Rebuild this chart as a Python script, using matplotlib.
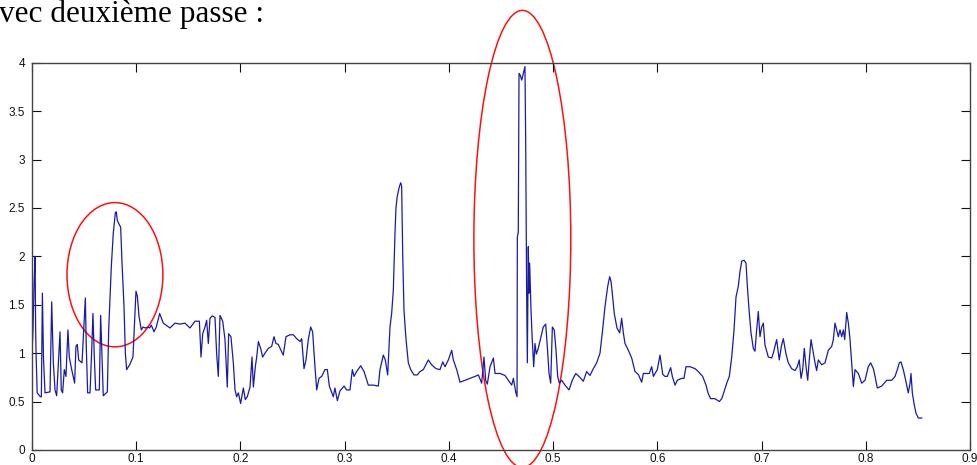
import numpy as np
import matplotlib
matplotlib.use("Agg")
import matplotlib.pyplot as plt
from matplotlib.patches import Ellipse

# courbe
x_vals = [
    0.000, 0.001, 0.002, 0.003, 0.0035, 0.004, 0.005, 0.008, 0.009, 0.010,
    0.011, 0.0125, 0.0173, 0.0189, 0.0205, 0.0221, 0.0237, 0.0253, 0.0269, 0.0281,
    0.0294, 0.0310, 0.0326, 0.0345, 0.0358, 0.0381, 0.0409, 0.0422, 0.0435, 0.0448,
    0.0480, 0.0499, 0.0512, 0.0521, 0.0534, 0.0557, 0.0573, 0.0585, 0.0598, 0.0611,
    0.0646, 0.0659, 0.0672, 0.0684, 0.0723, 0.0736, 0.0745, 0.0761, 0.0780, 0.0800,
    0.0809, 0.0819, 0.0832, 0.0851, 0.0864, 0.0883, 0.0896, 0.0908, 0.0937, 0.0969,
    0.0985, 0.0998, 0.1011, 0.1027, 0.1049, 0.1065, 0.1088, 0.1113, 0.1129, 0.1145,
    0.1171, 0.1193, 0.1225, 0.1260, 0.1324, 0.1372, 0.1420, 0.1468, 0.1516, 0.1564,
    0.1606, 0.1622, 0.1638, 0.1660, 0.1676, 0.1692, 0.1708, 0.1730, 0.1756, 0.1772,
    0.1788, 0.1804, 0.1830, 0.1852, 0.1874, 0.1887, 0.1909, 0.1932, 0.1948, 0.1964,
    0.1980, 0.2002, 0.2028, 0.2047, 0.2066, 0.2092, 0.2111, 0.2124, 0.2143, 0.2156,
    0.2172, 0.2194, 0.2213, 0.2236, 0.2268, 0.2300, 0.2322, 0.2341, 0.2363, 0.2411,
    0.2437, 0.2476, 0.2507, 0.2540, 0.2572, 0.2588, 0.2610, 0.2629, 0.2651, 0.2674,
    0.2693, 0.2715, 0.2732, 0.2754, 0.2780, 0.2811, 0.2834, 0.2853, 0.2891, 0.2907,
    0.2930, 0.2955, 0.2994, 0.3019, 0.3051, 0.3074, 0.3090, 0.3115, 0.3154, 0.3186,
    0.3227, 0.3275, 0.3323, 0.3339, 0.3371, 0.3390, 0.3413, 0.3435, 0.3451, 0.3467,
    0.3483, 0.3493, 0.3505, 0.3525, 0.3538, 0.3547, 0.3557, 0.3569, 0.3589, 0.3611,
    0.3634, 0.3665, 0.3697, 0.3723, 0.3755, 0.3803, 0.3835, 0.3876, 0.3915, 0.3941,
    0.3963, 0.3995, 0.4027, 0.4043, 0.4075, 0.4107, 0.4155, 0.4203, 0.4251, 0.4283,
    0.4315, 0.4337, 0.4353, 0.4369, 0.4395, 0.4427, 0.4443, 0.4491, 0.4538, 0.4571,
    0.4603, 0.4619, 0.4641, 0.4654, 0.4657, 0.4666, 0.4673, 0.4685, 0.4699, 0.4714,
    0.4730, 0.4737, 0.4746, 0.4753, 0.4762, 0.4769, 0.4775, 0.4788, 0.4800, 0.4814,
    0.4826, 0.4839, 0.4858, 0.4884, 0.4906, 0.4929, 0.4945, 0.4961, 0.4977, 0.4993,
    0.5011, 0.5028, 0.5044, 0.5060, 0.5083, 0.5114, 0.5153, 0.5184, 0.5217, 0.5248,
    0.5290, 0.5322, 0.5354, 0.5386, 0.5418, 0.5450, 0.5472, 0.5498, 0.5524, 0.5543,
    0.5556, 0.5568, 0.5587, 0.5613, 0.5639, 0.5658, 0.5674, 0.5690, 0.5722, 0.5754,
    0.5786, 0.5818, 0.5850, 0.5866, 0.5891, 0.5923, 0.5946, 0.5962, 0.5978, 0.6000,
    0.6026, 0.6052, 0.6074, 0.6096, 0.6128, 0.6144, 0.6170, 0.6192, 0.6234, 0.6256,
    0.6275, 0.6314, 0.6362, 0.6393, 0.6435, 0.6467, 0.6489, 0.6512, 0.6553, 0.6595,
    0.6618, 0.6640, 0.6666, 0.6691, 0.6714, 0.6736, 0.6755, 0.6777, 0.6793, 0.6810,
    0.6832, 0.6851, 0.6864, 0.6880, 0.6899, 0.6921, 0.6937, 0.6953, 0.6969, 0.6985,
    0.7001, 0.7017, 0.7033, 0.7065, 0.7097, 0.7113, 0.7145, 0.7170, 0.7190, 0.7209,
    0.7235, 0.7257, 0.7289, 0.7321, 0.7343, 0.7362, 0.7379, 0.7395, 0.7410, 0.7427,
    0.7443, 0.7458, 0.7475, 0.7497, 0.7513, 0.7529, 0.7545, 0.7577, 0.7609, 0.7641,
    0.7673, 0.7689, 0.7705, 0.7721, 0.7737, 0.7753, 0.7769, 0.7785, 0.7798, 0.7817,
    0.7833, 0.7849, 0.7865, 0.7881, 0.7897, 0.7929, 0.7961, 0.7993, 0.8024, 0.8047,
    0.8073, 0.8089, 0.8111, 0.8153, 0.8201, 0.8249, 0.8281, 0.8303, 0.8322, 0.8338,
    0.8360, 0.8383, 0.8408, 0.8425, 0.8434, 0.8447, 0.8463, 0.8482, 0.8504, 0.8537,
]
y_vals = [
    1.00, 1.24, 1.72, 2.00, 1.24, 0.96, 0.59, 0.55, 0.55, 1.62,
    0.96, 0.59, 0.60, 1.53, 0.90, 0.62, 0.56, 0.90, 1.22, 0.62,
    0.59, 0.83, 0.76, 1.24, 0.96, 0.83, 0.69, 1.07, 1.09, 0.93,
    0.90, 1.31, 1.57, 1.07, 0.59, 0.59, 1.03, 1.41, 0.96, 0.62,
    0.62, 1.39, 0.96, 0.56, 0.60, 1.24, 1.48, 1.89, 2.24, 2.45,
    2.46, 2.37, 2.34, 2.30, 1.93, 1.48, 1.00, 0.83, 0.88, 0.96,
    1.34, 1.64, 1.59, 1.38, 1.24, 1.27, 1.26, 1.27, 1.26, 1.29,
    1.22, 1.27, 1.41, 1.31, 1.26, 1.31, 1.30, 1.31, 1.26, 1.33,
    1.33, 0.96, 1.20, 1.27, 1.34, 1.10, 1.36, 1.385, 1.37, 0.99,
    0.76, 1.39, 1.33, 1.14, 0.65, 1.20, 1.17, 0.90, 0.62, 0.55,
    0.59, 0.48, 0.64, 0.52, 0.55, 0.65, 0.96, 0.65, 0.86, 0.96,
    1.12, 1.05, 0.96, 1.00, 1.05, 1.07, 1.17, 1.10, 1.09, 0.98,
    1.17, 1.19, 1.19, 1.15, 1.12, 1.15, 0.84, 0.93, 1.14, 1.27,
    1.22, 0.86, 0.62, 0.74, 0.76, 0.83, 0.83, 0.66, 0.55, 0.64,
    0.51, 0.61, 0.66, 0.62, 0.62, 0.83, 0.76, 0.81, 0.87, 0.81,
    0.67, 0.67, 0.66, 0.83, 0.98, 0.93, 0.775, 1.27, 1.41, 1.65,
    2.24, 2.51, 2.62, 2.72, 2.76, 2.72, 2.03, 1.45, 1.14, 0.90,
    0.83, 0.775, 0.775, 0.81, 0.83, 0.93, 0.88, 0.84, 0.83, 0.91,
    0.86, 0.93, 1.03, 0.93, 0.83, 0.70, 0.72, 0.74, 0.76, 0.775,
    0.69, 0.96, 0.72, 0.68, 0.86, 0.95, 0.79, 0.79, 0.77, 0.72,
    0.67, 0.74, 0.60, 0.55, 2.20, 2.25, 3.89, 3.87, 3.82, 3.89,
    3.96, 3.20, 1.65, 0.90, 2.10, 1.62, 1.93, 1.45, 1.14, 0.86,
    1.10, 0.99, 1.05, 1.17, 1.27, 1.30, 1.06, 0.79, 0.69, 1.27,
    1.24, 1.03, 0.76, 0.69, 0.72, 0.67, 0.62, 0.72, 0.79, 0.76,
    0.71, 0.81, 0.77, 0.84, 0.90, 1.00, 1.21, 1.48, 1.69, 1.79,
    1.74, 1.62, 1.41, 1.26, 1.21, 1.36, 1.21, 1.10, 1.03, 0.95,
    0.81, 0.78, 0.70, 0.79, 0.79, 0.79, 0.86, 0.76, 0.79, 0.83,
    0.98, 0.78, 0.76, 0.76, 0.85, 0.76, 0.67, 0.72, 0.74, 0.74,
    0.86, 0.86, 0.84, 0.81, 0.76, 0.67, 0.58, 0.53, 0.53, 0.50,
    0.53, 0.60, 0.69, 0.76, 0.96, 1.24, 1.58, 1.69, 1.84, 1.95,
    1.96, 1.93, 1.69, 1.45, 1.21, 1.05, 1.02, 1.24, 1.43, 1.17,
    1.27, 1.31, 1.085, 0.96, 0.95, 1.00, 1.14, 0.93, 1.07, 1.15,
    0.99, 0.90, 0.84, 0.82, 0.86, 0.93, 0.74, 0.83, 1.05, 0.86,
    0.72, 0.93, 1.14, 1.00, 0.90, 0.82, 0.93, 0.88, 0.90, 1.03,
    1.07, 1.14, 1.31, 1.24, 1.17, 1.24, 1.17, 1.24, 1.14, 1.42,
    1.31, 1.14, 0.90, 0.655, 0.83, 0.79, 0.69, 0.72, 0.86, 0.90,
    0.84, 0.76, 0.64, 0.66, 0.72, 0.72, 0.76, 0.83, 0.90, 0.91,
    0.83, 0.72, 0.59, 0.69, 0.79, 0.59, 0.48, 0.38, 0.33, 0.33,
]

x_ticks = [0, 0.1, 0.2, 0.3, 0.4, 0.5, 0.6, 0.7, 0.8, 0.9]
x_tick_labels = ["0", "0.1", "0.2", "0.3", "0.4", "0.5", "0.6", "0.7", "0.8", "0.9"]
y_ticks = [0, 0.5, 1, 1.5, 2, 2.5, 3, 3.5, 4]
y_tick_labels = ["0", "0.5", "1", "1.5", "2", "2.5", "3", "3.5", "4"]

# zones entourées en rouge (centre x, centre y, largeur, hauteur)
zone_pic_1 = (0.0796, 1.81, 0.092, 1.49)
zone_pic_2 = (0.4705, 2.18, 0.093, 4.72)

fig = plt.figure(figsize=(9.78, 4.65), dpi=100)
ax = fig.add_axes([0.0327, 0.0323, 0.9591, 0.8329])

ax.plot(x_vals, y_vals, color="#1a1aa8", linewidth=0.9)

for cx, cy, w, h in [zone_pic_1, zone_pic_2]:
    ax.add_patch(Ellipse((cx, cy), w, h, fill=False, edgecolor="#ff1010",
                         linewidth=1.1, clip_on=False))

ax.set_xlim(0, 0.9)
ax.set_ylim(0, 4)
ax.set_xticks(x_ticks)
ax.set_xticklabels(x_tick_labels)
ax.set_yticks(y_ticks)
ax.set_yticklabels(y_tick_labels)

ax.tick_params(direction="in", length=6.5, width=0.8, top=True, right=True,
               labelsize=8.5, colors="#111111")
ax.tick_params(axis="x", pad=2)
ax.tick_params(axis="y", pad=5)
for lab in ax.get_xticklabels() + ax.get_yticklabels():
    lab.set_family("Liberation Sans")
for s in ax.spines.values():
    s.set_color("#444444")
    s.set_linewidth(1.0)

fig.text(-0.001, 0.952, "vec deuxième passe :", family="Liberation Serif",
         fontsize=22.5, ha="left", va="baseline")

fig.savefig("out.png", dpi=100)
